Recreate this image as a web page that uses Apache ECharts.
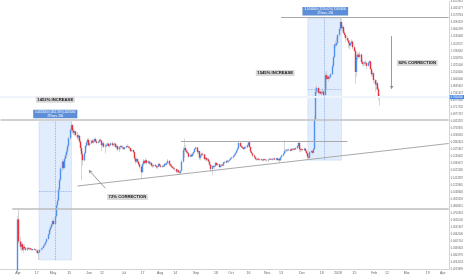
<!DOCTYPE html>
<html><head><meta charset="utf-8">
<script src="https://cdn.jsdelivr.net/npm/echarts@6/dist/echarts.min.js"></script>
<style>html,body{margin:0;padding:0;background:#fff}#c{width:466px;height:275px}</style>
</head><body><div id="c"></div>
<script>
// daily bars: [open, high, low, close]
const apr17=[[.0225,.066,.0215,.062],[.062,.0763,.038,.040],[.040,.044,.034,.036],[.036,.040,.033,.038],[.038,.039,.033,.034],[.034,.037,.032,.036],[.036,.038,.034,.035],[.035,.036,.033,.034],[.034,.036,.033,.035],[.035,.036,.034,.0345],[.0345,.0355,.0335,.035],[.035,.0355,.034,.0342],[.0342,.035,.033,.0338],[.0338,.0348,.0332,.0345],[.0345,.0352,.0338,.034],[.034,.0345,.0333,.0336],[.0336,.0342,.032,.0335],[.0335,.034,.031,.0318],[.0318,.033,.0277,.0322],[.0322,.0345,.0318,.034],[.034,.0355,.0335,.0348],[.0348,.036,.034,.0352],[.0352,.0375,.0348,.0368],[.0368,.0385,.036,.0378],[.0378,.04,.037,.0395],[.0395,.043,.039,.042],[.042,.047,.041,.046],[.046,.052,.045,.0505],[.0505,.0545,.048,.053],[.053,.0575,.051,.056]];
const may17=[[.056,.063,.054,.060],[.060,.062,.055,.0565],[.0565,.068,.056,.066],[.066,.085,.064,.082],[.082,.095,.078,.090],[.090,.118,.088,.112],[.112,.140,.105,.135],[.135,.180,.130,.170],[.170,.205,.160,.195],[.195,.200,.165,.172],[.172,.215,.168,.205],[.205,.232,.195,.220],[.220,.250,.210,.238],[.238,.275,.230,.265],[.265,.320,.255,.310],[.310,.380,.300,.365],[.365,.430,.350,.402],[.402,.410,.340,.360],[.360,.375,.330,.345],[.345,.365,.325,.355],[.355,.360,.320,.330],[.330,.350,.300,.315],[.315,.340,.300,.325],[.325,.330,.280,.290],[.290,.300,.240,.255],[.255,.270,.135,.225],[.225,.240,.180,.200],[.200,.238,.195,.230],[.230,.270,.225,.265],[.265,.295,.255,.285],[.285,.310,.270,.300]];
const jun17=[[.300,.310,.265,.270],[.270,.285,.262,.280],[.280,.300,.275,.295],[.295,.305,.280,.285],[.285,.300,.278,.292],[.292,.310,.285,.305],[.305,.315,.285,.290],[.290,.300,.275,.282],[.282,.295,.278,.288],[.288,.305,.283,.300],[.300,.310,.290,.295],[.295,.300,.240,.270],[.270,.285,.260,.280],[.280,.290,.255,.262],[.262,.275,.230,.265],[.265,.280,.258,.272],[.272,.285,.265,.278],[.278,.282,.260,.265],[.265,.275,.258,.270],[.270,.285,.265,.280],[.280,.290,.265,.270],[.270,.280,.262,.275],[.275,.285,.268,.278],[.278,.282,.255,.260],[.260,.272,.250,.265],[.265,.270,.240,.248],[.248,.265,.235,.260],[.260,.270,.250,.265],[.265,.270,.255,.260],[.260,.268,.250,.258]];
const jul17=[[.258,.262,.245,.250],[.250,.262,.245,.258],[.258,.270,.255,.265],[.265,.275,.258,.262],[.262,.268,.252,.258],[.258,.265,.250,.255],[.255,.258,.235,.240],[.240,.250,.235,.245],[.245,.248,.230,.235],[.235,.238,.200,.208],[.208,.215,.185,.195],[.195,.212,.190,.205],[.205,.208,.190,.195],[.195,.198,.180,.185],[.185,.190,.170,.176],[.176,.180,.138,.158],[.158,.190,.155,.185],[.185,.205,.180,.198],[.198,.200,.185,.190],[.190,.210,.185,.200],[.200,.203,.185,.190],[.190,.200,.185,.195],[.195,.198,.182,.188],[.188,.195,.182,.190],[.190,.192,.175,.180],[.180,.185,.172,.178],[.178,.185,.174,.182],[.182,.188,.175,.178],[.178,.182,.170,.174],[.174,.180,.168,.176],[.176,.190,.174,.186]];
const aug17=[[.186,.190,.175,.180],[.180,.185,.172,.176],[.176,.182,.172,.179],[.179,.183,.174,.177],[.177,.190,.175,.186],[.186,.192,.180,.184],[.184,.192,.180,.190],[.190,.205,.185,.198],[.198,.200,.180,.185],[.185,.188,.175,.180],[.180,.186,.172,.176],[.176,.180,.168,.172],[.172,.178,.165,.170],[.170,.175,.162,.168],[.168,.170,.155,.160],[.160,.168,.156,.164],[.164,.168,.155,.158],[.158,.162,.150,.156],[.156,.165,.152,.162],[.162,.200,.160,.195],[.195,.260,.190,.245],[.245,.308,.210,.255],[.255,.270,.235,.242],[.242,.250,.228,.235],[.235,.245,.225,.230],[.230,.235,.210,.215],[.215,.228,.212,.222],[.222,.230,.212,.217],[.217,.232,.214,.228],[.228,.240,.222,.235],[.235,.255,.232,.250]];
const sep17=[[.250,.262,.245,.258],[.258,.260,.225,.235],[.235,.245,.225,.240],[.240,.242,.200,.210],[.210,.225,.200,.220],[.220,.232,.215,.228],[.228,.232,.218,.225],[.225,.228,.200,.205],[.205,.215,.198,.210],[.210,.212,.195,.202],[.202,.210,.198,.204],[.204,.210,.192,.195],[.195,.198,.180,.183],[.183,.186,.160,.168],[.168,.182,.149,.178],[.178,.183,.170,.175],[.175,.180,.168,.178],[.178,.195,.176,.190],[.190,.193,.180,.182],[.182,.188,.178,.185],[.185,.186,.172,.175],[.175,.182,.172,.180],[.180,.186,.176,.183],[.183,.185,.178,.180],[.180,.195,.179,.192],[.192,.198,.188,.190],[.190,.200,.188,.198],[.198,.202,.192,.195],[.195,.200,.190,.198],[.198,.205,.196,.202]];
const oct17=[[.202,.210,.200,.208],[.208,.215,.204,.212],[.212,.220,.205,.218],[.218,.228,.214,.225],[.225,.235,.220,.232],[.232,.245,.228,.242],[.242,.258,.238,.252],[.252,.296,.250,.282],[.282,.290,.260,.265],[.265,.272,.255,.260],[.260,.268,.250,.255],[.255,.262,.245,.250],[.250,.265,.245,.260],[.260,.268,.252,.258],[.258,.275,.255,.270],[.270,.292,.265,.285],[.285,.288,.255,.260],[.260,.262,.232,.238],[.238,.240,.225,.230],[.230,.232,.215,.220],[.220,.225,.208,.212],[.212,.215,.200,.205],[.205,.210,.198,.203],[.203,.210,.200,.206],[.206,.210,.200,.202],[.202,.206,.198,.204],[.204,.208,.199,.201],[.201,.205,.197,.200],[.200,.208,.196,.205],[.205,.207,.199,.202],[.202,.206,.198,.201]];
const nov17=[[.201,.205,.195,.200],[.200,.204,.193,.203],[.203,.210,.200,.206],[.206,.209,.201,.204],[.204,.207,.200,.202],[.202,.208,.199,.205],[.205,.210,.202,.207],[.207,.212,.200,.203],[.203,.210,.199,.208],[.208,.212,.198,.201],[.201,.205,.196,.206],[.206,.210,.190,.200],[.200,.215,.198,.212],[.212,.225,.210,.220],[.220,.232,.215,.228],[.228,.296,.225,.240],[.240,.250,.232,.242],[.242,.250,.236,.246],[.246,.252,.238,.244],[.244,.250,.240,.248],[.248,.252,.238,.242],[.242,.255,.240,.250],[.250,.256,.242,.247],[.247,.255,.243,.252],[.252,.256,.244,.248],[.248,.258,.245,.255],[.255,.270,.250,.265],[.265,.288,.260,.282],[.282,.285,.235,.250],[.250,.258,.235,.245]];
const dec17=[[.245,.255,.238,.248],[.248,.252,.240,.245],[.245,.258,.240,.252],[.252,.255,.238,.240],[.240,.243,.225,.230],[.230,.235,.2006,.215],[.215,.225,.205,.210],[.210,.240,.208,.235],[.235,.245,.228,.240],[.240,.245,.225,.232],[.232,.255,.228,.250],[.250,.480,.245,.450],[.450,.860,.440,.780],[.780,.880,.740,.840],[.840,.860,.740,.760],[.760,.800,.730,.780],[.780,.800,.740,.750],[.750,.790,.720,.770],[.770,.830,.740,.780],[.780,.800,.690,.730],[.730,1.14,.720,1.08],[1.08,1.18,.820,1.00],[1.00,1.10,.980,1.05],[1.05,1.08,.950,1.01],[1.01,1.08,.990,1.04],[1.04,1.13,1.02,1.10],[1.10,1.35,1.08,1.29],[1.29,1.60,1.25,1.55],[1.55,2.05,1.50,1.98],[1.98,2.15,1.85,1.95],[1.95,2.30,1.90,2.05]];
const jan18=[[2.05,2.45,2.00,2.40],[2.40,2.80,2.30,2.70],[2.70,3.35,2.60,3.10],[3.10,3.20,2.60,2.75],[2.75,2.90,2.60,2.80],[2.80,2.90,2.45,2.50],[2.50,2.60,2.30,2.40],[2.40,2.45,2.10,2.25],[2.25,2.35,2.10,2.15],[2.15,2.25,1.85,2.05],[2.05,2.15,1.80,1.95],[1.95,2.10,1.90,2.05],[2.05,2.20,1.98,2.10],[2.10,2.15,1.80,1.88],[1.88,1.95,1.70,1.75],[1.75,1.80,.910,1.15],[1.15,1.65,1.05,1.55],[1.55,1.70,1.45,1.62],[1.62,1.68,1.50,1.55],[1.55,1.72,1.50,1.63],[1.63,1.65,1.35,1.40],[1.40,1.48,1.30,1.35],[1.35,1.42,1.28,1.36],[1.36,1.42,1.30,1.39],[1.39,1.45,1.33,1.37],[1.37,1.40,1.22,1.30],[1.30,1.42,1.28,1.38],[1.38,1.45,1.33,1.42],[1.42,1.44,1.20,1.22],[1.22,1.25,1.05,1.10],[1.10,1.18,1.05,1.12]];
const feb18=[[1.12,1.15,.920,.980],[.980,1.00,.780,.900],[.900,.980,.800,.920],[.920,.950,.800,.820],[.820,.850,.660,.690],[.690,.740,.590,.700]];

const firstDay='2017-03-17', dayCount=386, firstBarOffset=15;
const tickDates=['2017-04-01','2017-04-17','2017-05-01','2017-05-15','2017-06-01','2017-06-12','2017-07-01','2017-07-17','2017-08-01','2017-08-14','2017-09-01','2017-09-18','2017-10-01','2017-10-16','2017-11-01','2017-11-13','2017-12-01','2017-12-18','2018-01-01','2018-01-15','2018-02-01','2018-02-12','2018-03-01','2018-03-19','2018-04-01'];
const tickTexts=['Apr','17','May','15','Jun','12','Jul','17','Aug','14','Sep','18','Oct','16','Nov','13','Dec','18','2018','15','Feb','12','Mar','19','Apr'];
const lastPrice=0.70;

const dates=[];
const t0=Date.parse(firstDay+'T00:00:00Z');
for(let i=0;i<dayCount;i++){dates.push(new Date(t0+i*86400000).toISOString().slice(0,10));}
const bars=[].concat(apr17,may17,jun17,jul17,aug17,sep17,oct17,nov17,dec17,jan18,feb18);
const EMPTY=['-','-','-','-'];
const bodyData=[],wickData=[];
for(let i=0;i<firstBarOffset;i++){bodyData.push(EMPTY);wickData.push(EMPTY);}
bars.forEach(b=>{
  bodyData.push([b[0],b[3],Math.min(b[0],b[3]),Math.max(b[0],b[3])]);
  wickData.push([b[2],b[1],b[2],b[1]]);
});
const tickMap={};tickDates.forEach((d,i)=>tickMap[d]=tickTexts[i]);

const FONT='Liberation Sans, Arial, sans-serif';
const UP='#4f8ff0',DOWN='#e8303c',WICK='#cbcbcb',GRAYL='#a9a9a9';
const tag=(t)=>({show:true,position:'inside',formatter:t,backgroundColor:'#d9d9d9',color:'#1a1a1a',fontSize:4.2,fontWeight:'bold',fontFamily:FONT,padding:[1,1.5]});
const blueTag=(t)=>({show:true,position:'inside',formatter:t,backgroundColor:'#5b8ed6',color:'#fff',fontSize:2.8,lineHeight:3.4,align:'center',fontFamily:FONT,padding:[0.8,2]});
const seg=(a,b,style,s1,s2)=>[{coord:a,lineStyle:style,symbol:s1||'none',symbolSize:3},{coord:b,symbol:s2||'none',symbolSize:3}];
const lastDate=dates[dates.length-1];

const chart=echarts.init(document.getElementById('c'),null,{renderer:'canvas'});
chart.setOption({
  animation:false,
  grid:{left:0,right:14,top:0,bottom:5},
  xAxis:{type:'category',data:dates,boundaryGap:true,
    axisLine:{show:true,lineStyle:{color:'#d4d4d4',width:1}},axisTick:{show:false},splitLine:{show:false},
    axisLabel:{interval:(i,v)=>tickMap[v]!==undefined,formatter:v=>tickMap[v]||'',fontSize:3.5,color:'#666',margin:1.5,fontFamily:FONT}},
  yAxis:{type:'log',logBase:1.15,position:'right',min:Math.pow(1.15,-27),max:Math.pow(1.15,11),interval:1,
    axisLine:{show:true,lineStyle:{color:'#d4d4d4',width:1}},axisTick:{show:false},splitLine:{show:false},
    axisLabel:{fontSize:2.6,color:'#666',margin:1.5,fontFamily:FONT,formatter:v=>v.toFixed(7)}},
  series:[
    {type:'line',data:[],z:1,silent:true,
      markArea:{silent:true,label:{show:false},itemStyle:{color:'rgba(66,145,240,0.16)',borderColor:'rgba(66,145,240,0.3)',borderWidth:0.5},
        data:[[{xAxis:'2017-04-19',yAxis:0.0277},{xAxis:'2017-05-17',yAxis:0.43}],
              [{xAxis:'2017-12-06',yAxis:0.2006},{xAxis:'2018-01-04',yAxis:3.35}]]},
      markLine:{silent:true,symbol:'none',label:{show:false},
        data:[{yAxis:lastPrice,lineStyle:{color:'#f0f4fb',width:2,type:'solid',opacity:1},label:{show:true,position:'end',distance:0.5,formatter:lastPrice.toFixed(7),backgroundColor:'#4a86e0',color:'#fff',fontSize:2.6,fontFamily:FONT,padding:[0.6,1]}}]}},
    {type:'candlestick',name:'wick',data:wickData,z:2,barWidth:1,silent:true,
      itemStyle:{color:WICK,color0:WICK,borderColor:WICK,borderColor0:WICK,borderWidth:0.8}},
    {type:'candlestick',name:'XRPUSD',data:bodyData,z:3,barWidth:1.2,silent:true,
      itemStyle:{color:UP,color0:DOWN,borderColor:UP,borderColor0:DOWN,borderWidth:1.4}},
    {type:'line',data:[],z:4,silent:true,
      markLine:{silent:true,symbol:'none',label:{show:false},
        data:[
          seg([dates[10],0.0763],[lastDate,0.0763],{color:'#bdbdbd',width:1.6,type:'solid'}),
          seg([dates[0],0.447],[lastDate,0.447],{color:'#c2c2c2',width:1.6,type:'solid'}),
          seg(['2017-11-13',3.40],[lastDate,3.40],{color:GRAYL,width:1,type:'solid'}),
          seg(['2017-08-19',0.291],['2018-01-09',0.291],{color:GRAYL,width:1,type:'solid'}),
          seg(['2017-05-22',0.1201],[lastDate,0.279],{color:GRAYL,width:1,type:'solid'}),
          seg(['2017-04-19',0.109],['2017-05-17',0.109],{color:'#7fa5d8',width:0.8,type:'dotted'}),
          seg(['2017-05-03',0.0277],['2017-05-03',0.43],{color:'#7fa5d8',width:0.8,type:'dotted'}),
          seg(['2017-12-06',0.82],['2018-01-04',0.82],{color:'#7fa5d8',width:0.8,type:'dotted'}),
          seg(['2017-12-20',0.2006],['2017-12-20',3.35],{color:'#7fa5d8',width:0.8,type:'dotted'}),
          seg(['2017-06-01',0.164],['2017-06-15',0.115],{color:'#808080',width:0.8,type:'solid'},'arrow','none'),
          seg(['2018-02-16',2.34],['2018-02-16',0.825],{color:'#808080',width:0.8,type:'solid'},'none','arrow')
        ]},
      markPoint:{silent:true,symbol:'rect',symbolSize:0,
        data:[
          {coord:['2017-05-03',0.664],label:tag('1453% INCREASE')},
          {coord:['2017-07-04',0.0966],label:tag('72% CORRECTION')},
          {coord:['2017-11-08',1.13],label:tag('1545% INCREASE')},
          {coord:['2018-03-10',1.375],label:tag('82% CORRECTION')},
          {coord:['2017-05-03',0.50],label:blueTag('0.4023000 (1452.35%) 4023000\n28 bars, 28d')},
          {coord:['2017-12-21',3.83],label:blueTag('3.1494000 (1570.02%) 31494000\n29 bars, 29d')}
        ]}}
  ]
});
</script></body></html>
